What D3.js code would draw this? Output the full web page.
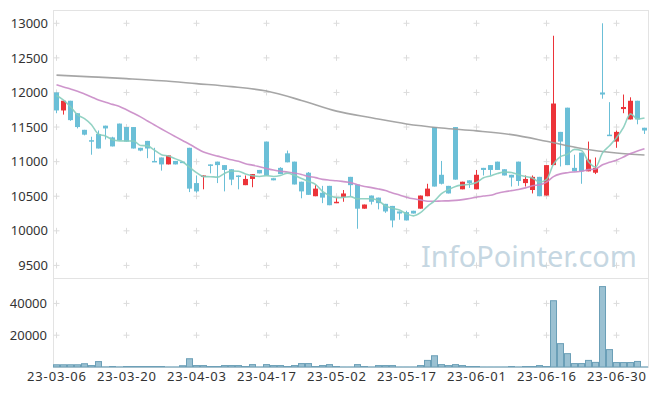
<!DOCTYPE html>
<html>
<head>
<meta charset="utf-8">
<script src="https://cdn.jsdelivr.net/npm/d3@7"></script>
<style>
  body { margin: 0; background: #fff; }
  svg { display: block; font-family: "Noto Sans", sans-serif; }
</style>
</head>
<body>
<svg id="chart" width="657" height="396"></svg>
<script>
// trading days shown on the chart
var dates = [
  "23-03-06","23-03-07","23-03-08","23-03-09","23-03-10","23-03-13","23-03-14","23-03-15","23-03-16","23-03-17",
  "23-03-20","23-03-21","23-03-22","23-03-23","23-03-24","23-03-27","23-03-28","23-03-29","23-03-30","23-03-31",
  "23-04-03","23-04-04","23-04-05","23-04-06","23-04-07","23-04-10","23-04-11","23-04-12","23-04-13","23-04-14",
  "23-04-17","23-04-18","23-04-19","23-04-20","23-04-21","23-04-24","23-04-25","23-04-26","23-04-27","23-04-28",
  "23-05-02","23-05-03","23-05-04","23-05-08","23-05-09","23-05-10","23-05-11","23-05-12","23-05-15","23-05-16",
  "23-05-17","23-05-18","23-05-19","23-05-22","23-05-23","23-05-24","23-05-25","23-05-26","23-05-30","23-05-31",
  "23-06-01","23-06-02","23-06-05","23-06-07","23-06-08","23-06-09","23-06-12","23-06-13","23-06-14","23-06-15",
  "23-06-16","23-06-19","23-06-20","23-06-21","23-06-22","23-06-23","23-06-26","23-06-27","23-06-28","23-06-29",
  "23-06-30","23-07-03","23-07-04","23-07-05","23-07-06"
];

var opens = [
  12000,11740,11880,11700,11460,11310,11400,11520,11350,11550,
  11500,11500,11200,11300,11010,11060,10960,11010,11000,11200,
  10690,10790,10960,11000,10950,10890,10800,10660,10750,10880,
  11290,10760,10910,11120,11000,10710,10840,10500,10550,10650,
  10400,10490,10780,10670,10320,10510,10480,10390,10360,10280,
  10270,10290,10320,10500,11500,10810,10650,11500,10600,10730,
  10600,10910,10950,11000,10890,10810,11000,10690,10590,10780,
  10510,10950,11430,11780,10910,11130,10860,10840,12000,11390,
  11290,11760,11610,11880,11490
];
var highs = [
  12000,11880,11880,11700,11460,11360,11450,11520,11360,11550,
  11500,11500,11200,11300,11200,11060,11090,11010,11000,11200,
  10800,10800,10960,11000,10950,10890,10800,10800,10820,10880,
  11290,10760,10920,11160,11000,10710,10850,10660,10650,10650,
  10480,10590,10780,10670,10380,10510,10480,10390,10360,10280,
  10290,10290,10510,10680,11500,11010,10650,11500,10710,10730,
  10880,10910,10950,11000,10890,10810,11000,10800,10800,10780,
  10950,12820,11430,11780,11100,11130,11290,11060,13000,11860,
  11450,11970,11930,11880,11490
];
var lows = [
  11700,11680,11590,11480,11380,11100,11190,11320,11220,11310,
  11290,11190,11150,11050,11000,10870,10960,10960,10980,10560,
  10550,10600,10830,10690,10570,10660,10600,10660,10630,10830,
  10800,10730,10820,10990,10670,10470,10520,10500,10400,10370,
  10400,10420,10500,10030,10320,10380,10310,10260,10050,10160,
  10150,10250,10320,10500,10640,10670,10540,10740,10600,10620,
  10600,10800,10800,10880,10800,10640,10650,10640,10540,10500,
  10510,10950,10930,10950,10860,10680,10860,10820,11910,11380,
  11200,11700,11610,11540,11400
];
var closes = [
  11740,11880,11600,11500,11390,11300,11190,11480,11220,11310,
  11290,11190,11160,11190,11000,10960,11090,10960,10980,10610,
  10570,10800,10950,10950,10880,10740,10790,10750,10820,10830,
  10800,10730,10820,10990,10670,10570,10520,10610,10480,10370,
  10420,10540,10660,10320,10380,10420,10400,10280,10150,10250,
  10150,10250,10510,10610,10640,10680,10540,10740,10710,10690,
  10810,10880,10880,10880,10800,10770,10720,10750,10780,10500,
  10950,11840,11290,10950,10860,10860,11030,10910,11970,11380,
  11430,11790,11880,11610,11450
];
var volumes = [
  1400,1400,1400,1400,2050,900,3400,100,300,80,
  300,300,300,300,300,300,60,60,800,5200,
  900,900,300,300,900,900,900,300,1500,60,
  1500,900,900,300,900,2150,2150,300,900,1500,
  300,60,60,1500,300,60,900,900,900,60,
  60,60,900,4150,7070,1500,900,1500,900,300,
  300,60,60,60,60,300,60,300,300,900,
  300,41700,14700,8400,2150,2150,4150,2900,50600,10950,
  2800,2800,2800,3500,60
];

// closes before 23-03-06, needed for the moving averages
var prevCloses = [
  12540,12200,12140,12190,12160,12070,12140,11820,11910,12250,
  12190,12220,12370,12160,12120,12210,12080,12080,11670
];

// 120-day average
var ma120Dates = [
  "23-03-06","23-03-13","23-03-20","23-03-27","23-04-03","23-04-10","23-04-17","23-04-24","23-05-02",
  "23-05-10","23-05-17","23-05-24","23-06-01","23-06-09","23-06-16","23-06-23","23-06-30","23-07-06"
];
var ma120Values = [
  12250,12226,12200,12170,12128,12085,12020,11885,11730,
  11634,11545,11487,11445,11390,11295,11190,11125,11096
];

var priceTicks = [9500,10000,10500,11000,11500,12000,12500,13000];
var volumeTicks = [20000,40000];

(function() {
  var dateTicks = dates.filter(function(d, i) { return i % 10 === 0; });
  var svg = d3.select("#chart");
  var left = 53, right = 648, plotTop = 10, mid = 278, bottom = 367;

  var x = d3.scaleBand().domain(dates).range([left, right]).padding(0);
  var cx = function(d) { return x(d) + x.bandwidth() / 2; };
  var y = d3.scaleLinear().domain([9318, 13192]).range([mid, plotTop]);
  var yv = d3.scaleLinear().domain([0, 56000]).range([bottom, mid]);

  var allCloses = prevCloses.concat(closes);
  function movingAvg(n) {
    var off = prevCloses.length;
    return dates.map(function(d, i) {
      return { date: d, value: d3.mean(allCloses.slice(off + i - n + 1, off + i + 1)) };
    });
  }

  // frame
  svg.append("path")
    .attr("d", "M" + left + "," + plotTop + "H" + right + "V" + bottom + "H" + left + "Z" +
               "M" + left + "," + mid + "H" + right)
    .attr("fill", "none").attr("stroke", "#e3e3e3")
    .attr("shape-rendering", "crispEdges");

  // grid crosses
  function crosses(xs, ys) {
    var g = svg.append("g").attr("stroke", "#dcdcdc");
    xs.forEach(function(dx) {
      ys.forEach(function(py) {
        var px = cx(dx);
        g.append("path").attr("d", "M" + (px - 3) + "," + py + "h6M" + px + "," + (py - 3) + "v6");
      });
    });
  }
  crosses(dateTicks, priceTicks.map(y));
  crosses(dateTicks, volumeTicks.map(yv));

  // watermark, sized to span the same width as in the original
  var mark = svg.append("text")
    .attr("x", 421).attr("y", 267)
    .attr("font-size", 33)
    .attr("fill", "#c6d7e2")
    .text("InfoPointer.com");
  var w = mark.node().getComputedTextLength();
  if (w > 0) mark.attr("font-size", 33 * 216 / w);

  // candles
  var color = function(d, i) { return closes[i] >= opens[i] ? "#ec3339" : "#6bbfd7"; };
  var candles = svg.append("g").selectAll("g").data(dates).join("g")
    .attr("fill", color).attr("stroke", color);
  candles.append("line")
    .attr("x1", cx).attr("x2", cx)
    .attr("y1", function(d, i) { return y(highs[i]); })
    .attr("y2", function(d, i) { return y(lows[i]); });
  candles.append("rect")
    .attr("stroke", "none")
    .attr("x", function(d) { return cx(d) - 2.5; })
    .attr("width", 5)
    .attr("y", function(d, i) { return y(Math.max(opens[i], closes[i])); })
    .attr("height", function(d, i) { return Math.max(1.5, Math.abs(y(opens[i]) - y(closes[i]))); });

  // moving averages
  var line = d3.line()
    .x(function(d) { return cx(d.date); })
    .y(function(d) { return y(d.value); })
    .curve(d3.curveMonotoneX);
  var ma120 = ma120Dates.map(function(d, i) { return { date: d, value: ma120Values[i] }; });
  [[ma120, "#9c9c9c"], [movingAvg(20), "#c98ac6"], [movingAvg(5), "#86cdbd"]].forEach(function(s) {
    svg.append("path").datum(s[0])
      .attr("d", line)
      .attr("fill", "none")
      .attr("stroke", s[1])
      .attr("stroke-width", 1.6)
      .attr("stroke-opacity", 0.9);
  });

  // volume
  svg.append("g").selectAll("rect").data(dates).join("rect")
    .attr("x", function(d) { return x(d) + 0.5; })
    .attr("width", x.bandwidth() - 1)
    .attr("y", function(d, i) { return yv(volumes[i]); })
    .attr("height", function(d, i) { return bottom - yv(volumes[i]); })
    .attr("fill", "#9bc1d2")
    .attr("stroke", "#6b9fb7")
    .attr("stroke-width", 1);

  // axes
  function styleAxis(g) {
    g.select(".domain").remove();
    g.selectAll("text").attr("font-size", 13).attr("fill", "#333")
      .attr("font-family", "\"Noto Sans\", sans-serif");
  }
  svg.append("g").attr("transform", "translate(" + left + ",0)")
    .call(d3.axisLeft(y).tickValues(priceTicks).tickFormat(d3.format("d")).tickSize(0).tickPadding(5))
    .call(styleAxis);
  svg.append("g").attr("transform", "translate(" + left + ",0)")
    .call(d3.axisLeft(yv).tickValues(volumeTicks).tickFormat(d3.format("d")).tickSize(0).tickPadding(6))
    .call(styleAxis);
  svg.append("g").attr("transform", "translate(0," + bottom + ")")
    .call(d3.axisBottom(x).tickValues(dateTicks).tickSize(0).tickPadding(5))
    .call(styleAxis)
    .selectAll("text")
      .attr("textLength", 59).attr("lengthAdjust", "spacing");
})();
</script>
</body>
</html>
